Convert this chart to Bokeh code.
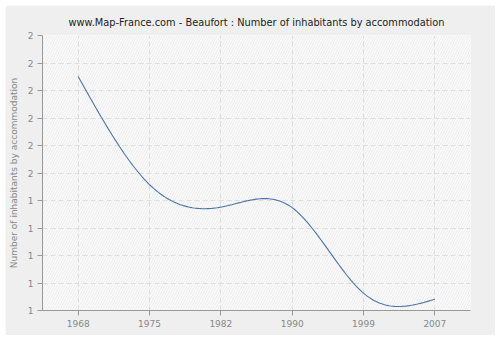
import numpy as np
from bokeh.plotting import figure
from bokeh.models import Range1d, FixedTicker, PrintfTickFormatter, BoxAnnotation
from bokeh.embed import file_html
from bokeh.resources import INLINE

years = ["1968", "1975", "1982", "1990", "1999", "2007"]
values = [1.851, 1.458, 1.376, 1.374, 1.063, 1.041]
y_ticks = [1.0, 1.1, 1.2, 1.3, 1.4, 1.5, 1.6, 1.7, 1.8, 1.9, 2.0]

# smooth rendering of the line (natural cubic spline through the data points)
xs = np.arange(len(values), dtype=float)
ys = np.array(values, dtype=float)
n = len(xs)
A = np.zeros((n, n))
b = np.zeros(n)
A[0, 0] = 1
A[-1, -1] = 1
for i in range(1, n - 1):
    A[i, i - 1] = 1
    A[i, i] = 4
    A[i, i + 1] = 1
    b[i] = 6 * (ys[i + 1] - 2 * ys[i] + ys[i - 1])
M = np.linalg.solve(A, b)
cx, cy = [], []
for i in range(n - 1):
    t = np.linspace(0, 1, 40, endpoint=(i == n - 2))
    a = 1 - t
    seg = a * ys[i] + t * ys[i + 1] + ((a ** 3 - a) * M[i] + (t ** 3 - t) * M[i + 1]) / 6
    cx.extend(list(xs[i] + t))
    cy.extend(list(seg))

p = figure(width=490, height=330, output_backend="svg", toolbar_location=None,
           x_range=Range1d(-0.5, len(years) - 0.5), y_range=Range1d(1.0, 2.0),
           min_border_left=36, min_border_right=25, min_border_top=30, min_border_bottom=25)
p.margin = (5, 5, 5, 5)
p.border_fill_color = "#efefef"
p.background_fill_color = "#fbfbfb"
p.outline_line_color = None

p.add_layout(BoxAnnotation(fill_color="#fbfbfb", fill_alpha=1.0, line_color=None,
                           hatch_pattern="right_diagonal_line", hatch_color="#ececec",
                           hatch_scale=5, hatch_weight=1, level="image"))

p.title.text = "www.Map-France.com - Beaufort : Number of inhabitants by accommodation"
p.title.align = "center"
p.title.text_font = "DejaVu Sans"
p.title.text_font_size = "9.8px"
p.title.text_font_style = "normal"
p.title.text_color = "#222222"
p.title.standoff = 16

p.xaxis.ticker = FixedTicker(ticks=list(range(len(years))))
p.xaxis.major_label_overrides = {i: y for i, y in enumerate(years)}
p.yaxis.ticker = FixedTicker(ticks=y_ticks)
p.yaxis.formatter = PrintfTickFormatter(format="%.0f")
p.yaxis.axis_label = "Number of inhabitants by accommodation"

for ax in (p.xaxis[0], p.yaxis[0]):
    ax.axis_line_color = "#999999"
    ax.major_tick_line_color = "#999999"
    ax.minor_tick_line_color = None
    ax.major_tick_in = 0
    ax.major_tick_out = 5
    ax.major_label_text_font = "DejaVu Sans"
    ax.major_label_text_font_size = "9px"
    ax.major_label_text_color = "#888888"
    ax.axis_label_text_font = "DejaVu Sans"
    ax.axis_label_text_font_size = "9px"
    ax.axis_label_text_font_style = "normal"
    ax.axis_label_text_color = "#888888"
    ax.major_label_standoff = 4

p.yaxis.axis_label_standoff = 6

p.xgrid.grid_line_color = "#dedede"
p.xgrid.grid_line_dash = "5 3"
p.ygrid.grid_line_color = "#dedede"
p.ygrid.grid_line_dash = "5 3"

p.line(cx, cy, line_color="#4a74aa", line_width=1.1)

open("out.html", "w").write(file_html(p, INLINE))
